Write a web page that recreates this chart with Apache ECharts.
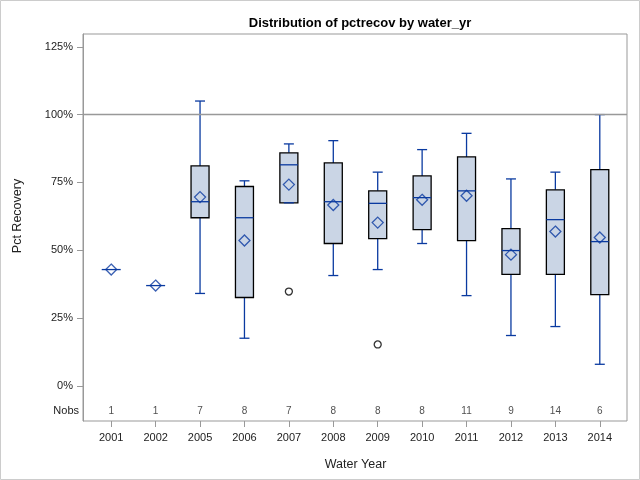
<!DOCTYPE html>
<html><head><meta charset="utf-8">
<script src="https://cdn.jsdelivr.net/npm/echarts@6/dist/echarts.min.js"></script>
<style>html,body{margin:0;padding:0;background:#fff}#c{width:640px;height:480px}</style>
</head><body><div id="c"></div>
<script>
const years = ['2001','2002','2005','2006','2007','2008','2009','2010','2011','2012','2013','2014'];
const nobs = [1, 1, 7, 8, 7, 8, 8, 8, 11, 9, 14, 6];
const whiskerLow  = [42.9, 37.0, 34.1, 17.6, 67.5, 40.7, 42.9, 52.5, 33.3, 18.6, 21.9, 8.0];
const q1          = [42.9, 37.0, 62.0, 32.6, 67.5, 52.5, 54.3, 57.6, 53.6, 41.1, 41.1, 33.7];
const median      = [42.9, 37.0, 67.9, 62.0, 81.5, 67.9, 67.3, 69.4, 71.9, 49.9, 61.3, 53.2];
const q3          = [42.9, 37.0, 81.1, 73.5, 85.9, 82.2, 71.9, 77.4, 84.4, 58.0, 72.3, 79.7];
const whiskerHigh = [42.9, 37.0, 105.0, 75.6, 89.2, 90.4, 78.8, 87.1, 93.1, 76.3, 78.8, 100.0];
const means       = [42.9, 37.0, 69.6, 53.6, 74.2, 66.7, 60.2, 68.6, 70.1, 48.4, 56.9, 54.7];
const outlierYears  = ['2007', '2009'];
const outlierValues = [34.8, 15.3];
const yTicks = [0, 25, 50, 75, 100, 125];
const refValue = 100;

const FONT = '"Liberation Sans", Arial, sans-serif';
const BLUE = '#0a3aa0';
const YMIN = -12.9, YMAX = 129.7, NOBS_Y = -9.2;

function renderBox(params, api) {
  const i = api.value(0);
  const x = api.coord([i, 0])[0];
  const yy = k => api.coord([i, api.value(k)])[1];
  const yLo = yy(1), yQ1 = yy(2), yMed = yy(3), yQ3 = yy(4), yHi = yy(5);
  const bw = 18, cw = 10;
  const ls = {stroke: BLUE, lineWidth: 1.3, fill: null};
  const ch = [];
  ch.push({type: 'line', shape: {x1: x, y1: yHi, x2: x, y2: yQ3}, style: ls});
  ch.push({type: 'line', shape: {x1: x, y1: yQ1, x2: x, y2: yLo}, style: ls});
  const single = Math.abs(yQ1 - yQ3) < 0.5;
  if (!single) {
    ch.push({type: 'rect', shape: {x: x - bw / 2, y: yQ3, width: bw, height: yQ1 - yQ3},
      style: {fill: '#cad5e5', stroke: '#000', lineWidth: 1.3}});
  }
  const mw = single ? 19 : bw;
  ch.push({type: 'line', shape: {x1: x - mw / 2, y1: yMed, x2: x + mw / 2, y2: yMed}, style: ls});
  if (!single) {
    ch.push({type: 'line', shape: {x1: x - cw / 2, y1: yHi, x2: x + cw / 2, y2: yHi}, style: ls});
    ch.push({type: 'line', shape: {x1: x - cw / 2, y1: yLo, x2: x + cw / 2, y2: yLo}, style: ls});
  }
  return {type: 'group', children: ch};
}

const chart = echarts.init(document.getElementById('c'), null, {renderer: 'canvas'});
chart.setOption({
  animation: false,
  backgroundColor: '#fff',
  textStyle: {fontFamily: FONT},
  title: {
    text: 'Distribution of pctrecov by water_yr',
    left: 355, top: 12, textAlign: 'center',
    textStyle: {fontFamily: FONT, fontSize: 13, fontWeight: 'bold', color: '#000'}
  },
  grid: [
    {left: 83, right: 13, top: 34, bottom: 59, show: true, borderColor: '#999', borderWidth: 1, backgroundColor: 'transparent'},
    {left: 89, right: 18, top: 34, bottom: 59}
  ],
  xAxis: [
    {gridIndex: 0, type: 'category', data: years, show: false},
    {gridIndex: 1, type: 'category', data: years, boundaryGap: true, position: 'bottom',
      axisLine: {show: false, onZero: false},
      axisTick: {show: true, alignWithLabel: true, length: 6, lineStyle: {color: '#999'}},
      axisLabel: {fontFamily: FONT, fontSize: 11, color: '#222', margin: 11},
      name: 'Water Year', nameLocation: 'middle', nameGap: 37,
      nameTextStyle: {fontFamily: FONT, fontSize: 12.5, color: '#222'}
    }
  ],
  yAxis: [
    {gridIndex: 0, type: 'value', min: YMIN, max: YMAX,
      axisLine: {show: true, lineStyle: {color: '#999'}},
      axisTick: {show: true, length: 6, customValues: yTicks, lineStyle: {color: '#999'}},
      axisLabel: {customValues: yTicks, formatter: v => v + '%', fontFamily: FONT, fontSize: 11, color: '#222', margin: 10},
      splitLine: {show: false}
    },
    {gridIndex: 1, type: 'value', min: YMIN, max: YMAX, show: false, splitLine: {show: false}}
  ],
  graphic: [
    {type: 'rect', silent: true, shape: {x: 0.5, y: 0.5, width: 639, height: 479}, style: {fill: 'none', stroke: '#ccc', lineWidth: 1}},
    {type: 'text', x: 18, y: 216, rotation: Math.PI / 2, silent: true,
      style: {text: 'Pct Recovery', font: '12.5px ' + FONT, fill: '#222', textAlign: 'center', textVerticalAlign: 'middle'}},
    {type: 'text', x: 79, y: 411, silent: true,
      style: {text: 'Nobs', font: '11px ' + FONT, fill: '#222', textAlign: 'right', textVerticalAlign: 'middle'}}
  ],
  series: [
    {
      type: 'custom', xAxisIndex: 1, yAxisIndex: 1, z: 2,
      renderItem: renderBox,
      encode: {x: 0, y: [1, 2, 3, 4, 5]},
      data: years.map((y, i) => [i, whiskerLow[i], q1[i], median[i], q3[i], whiskerHigh[i]])
    },
    {
      type: 'scatter', xAxisIndex: 1, yAxisIndex: 1, z: 3,
      symbol: 'diamond', symbolSize: [11, 11],
      itemStyle: {color: 'rgba(0,0,0,0)', borderColor: BLUE, borderWidth: 1.3},
      data: years.map((y, i) => [i, means[i]])
    },
    {
      type: 'scatter', xAxisIndex: 1, yAxisIndex: 1, z: 3,
      symbol: 'circle', symbolSize: 7,
      itemStyle: {color: 'rgba(0,0,0,0)', borderColor: '#000', borderWidth: 1.3},
      data: outlierYears.map((y, k) => [years.indexOf(y), outlierValues[k]])
    },
    {
      type: 'scatter', xAxisIndex: 1, yAxisIndex: 1, z: 5,
      symbolSize: 0,
      label: {show: true, position: 'inside', formatter: p => String(p.value[2]), fontFamily: FONT, fontSize: 10, color: '#222'},
      data: years.map((y, i) => [i, NOBS_Y, nobs[i]])
    },
    {
      type: 'line', xAxisIndex: 0, yAxisIndex: 0, z: 5,
      data: [], silent: true,
      markLine: {
        silent: true, symbol: 'none', label: {show: false},
        lineStyle: {color: '#999', width: 1.3, type: 'solid'},
        data: [{yAxis: refValue}]
      }
    }
  ]
});
</script>
</body></html>
